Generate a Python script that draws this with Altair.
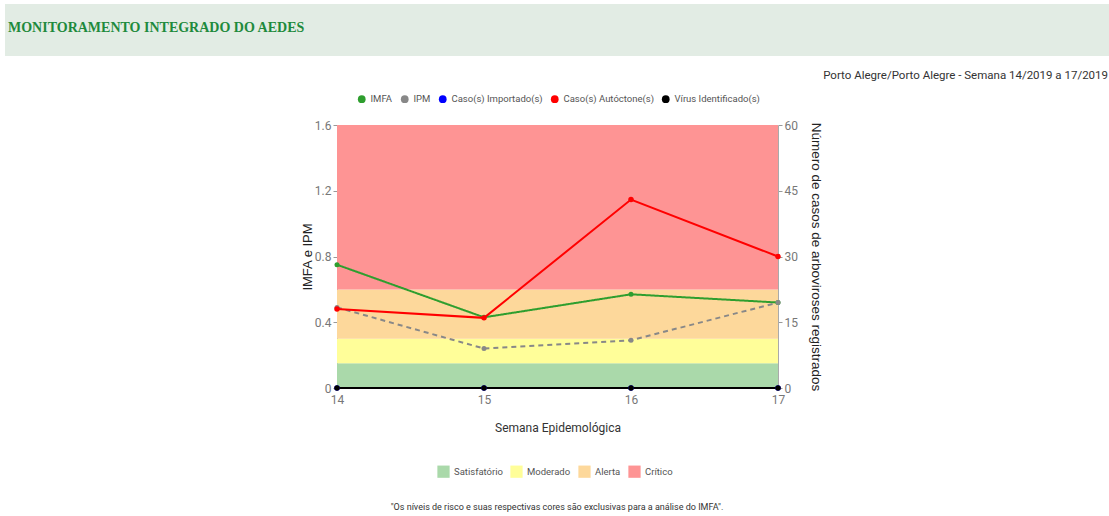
import altair as alt
import pandas as pd

# Weekly indices (left axis) and case counts (right axis)
semanas = [14, 15, 16, 17]
imfa = [0.75, 0.43, 0.57, 0.52]
ipm = [0.49, 0.24, 0.29, 0.52]
importados = [0, 0, 0, 0]
autoctones = [18, 16, 43, 30]
virus = [0, 0, 0, 0]

# Risk levels for IMFA
niveis = ["Satisfatório", "Moderado", "Alerta", "Crítico"]
nivel_min = [0.0, 0.15, 0.30, 0.60]
nivel_max = [0.15, 0.30, 0.60, 1.6]
nivel_cores = ["#aad9aa", "#fffe99", "#fdd89b", "#fe9494"]

series = ["IMFA", "IPM", "Caso(s) Importado(s)", "Caso(s) Autóctone(s)", "Vírus Identificado(s)"]
series_cores = ["#2e9e2e", "#888888", "#0000ff", "#ff0000", "#000000"]

COND = "Roboto"
ARIAL = "Liberation Sans"

W, H = 441, 263
PAD = {"left": 337, "top": 125, "right": 331, "bottom": 128}

x_scale = alt.Scale(domain=[14, 17], nice=False, zero=False)
x_axis = alt.Axis(values=semanas, format="d", title="Semana Epidemológica",
                  labelFont=COND, labelFontSize=12, labelColor="#777", labelFlush=False,
                  titleFont=COND, titleFontSize=12, titleColor="#333", titleFontWeight="normal",
                  ticks=False, domainColor="#000", labelPadding=6, titlePadding=17, grid=False)

color_scale = alt.Scale(domain=series, range=series_cores)
color_legend = alt.Legend(title=None, orient="none", direction="horizontal",
                          legendX=20, legendY=-31, symbolType="circle", symbolSize=60,
                          symbolStrokeWidth=0, labelFont=COND, labelFontSize=9.5,
                          labelColor="#555", columnPadding=7, symbolOffset=0)

df_bandas = pd.DataFrame({"nivel": niveis, "y0": nivel_min, "y1": nivel_max,
                          "x0": [semanas[0]] * 4, "x1": [semanas[-1]] * 4})
bandas = alt.Chart(df_bandas).mark_rect(opacity=1).encode(
    x=alt.X("x0:Q", scale=x_scale, axis=x_axis),
    x2="x1",
    y=alt.Y("y0:Q", scale=alt.Scale(domain=[0, 1.6], nice=False),
            axis=alt.Axis(values=[0, 0.4, 0.8, 1.2, 1.6], format="~g", title="IMFA e IPM",
                          labelFont=COND, labelFontSize=12, labelColor="#777",
                          tickColor="#999", tickSize=4, domainColor="#aaa", labelPadding=2,
                          titleFont=ARIAL, titleFontSize=13, titleColor="#222",
                          titleFontWeight="normal", titlePadding=0, grid=False)),
    y2="y1",
    fill=alt.Fill("nivel:N", scale=alt.Scale(domain=niveis, range=nivel_cores),
                  legend=alt.Legend(title=None, orient="none", direction="horizontal",
                                    legendX=100, legendY=340, symbolType="square",
                                    symbolSize=150, symbolStrokeWidth=0, labelFont=COND,
                                    labelFontSize=9.5, labelColor="#555", columnPadding=7)),
)

df_idx = pd.DataFrame({
    "semana": semanas * 2,
    "valor": imfa + ipm,
    "serie": ["IMFA"] * 4 + ["IPM"] * 4,
})
indices = alt.Chart(df_idx).mark_line(strokeWidth=2, point=alt.OverlayMarkDef(size=25, filled=True)).encode(
    x=alt.X("semana:Q", scale=x_scale),
    y=alt.Y("valor:Q"),
    color=alt.Color("serie:N", scale=color_scale, legend=color_legend),
    strokeDash=alt.StrokeDash("serie:N", scale=alt.Scale(domain=["IMFA", "IPM"], range=[[1, 0], [5, 4]]), legend=None),
    order=alt.Order("semana:Q"),
)

esquerda = alt.layer(bandas, indices)

df_casos = pd.DataFrame({
    "semana": semanas * 3,
    "casos": importados + autoctones + virus,
    "serie": ["Caso(s) Importado(s)"] * 4 + ["Caso(s) Autóctone(s)"] * 4 + ["Vírus Identificado(s)"] * 4,
})
casos = alt.Chart(df_casos).mark_line(strokeWidth=2, point=alt.OverlayMarkDef(size=30, filled=True)).encode(
    x=alt.X("semana:Q", scale=x_scale),
    y=alt.Y("casos:Q", scale=alt.Scale(domain=[0, 60], nice=False),
            axis=alt.Axis(orient="right", values=[0, 15, 30, 45, 60],
                          title="Número de casos de arboviroses registrados",
                          labelFont=COND, labelFontSize=12, labelColor="#777",
                          tickColor="#999", tickSize=4, domainColor="#aaa", labelPadding=2,
                          titleFont=ARIAL, titleFontSize=13.5, titleColor="#222",
                          titleFontWeight="normal", titleAngle=90, titlePadding=11, grid=False)),
    color=alt.Color("serie:N", scale=color_scale, legend=color_legend),
    detail="serie:N",
    order=alt.Order("semana:Q"),
)

um = pd.DataFrame({"k": [0]})
cabecalho = alt.Chart(um).mark_rect(color="#e2ece4").encode(
    x=alt.value(5 - PAD["left"]), x2=alt.value(1109 - PAD["left"]),
    y=alt.value(4 - PAD["top"]), y2=alt.value(56 - PAD["top"]),
)
titulo = alt.Chart(um).mark_text(align="left", baseline="middle", font="Liberation Serif",
                                 fontSize=14, fontWeight="bold", color="#1e8a3c").encode(
    x=alt.value(8 - PAD["left"]), y=alt.value(28 - PAD["top"]),
    text=alt.value("MONITORAMENTO INTEGRADO DO AEDES"),
)
local = alt.Chart(um).mark_text(align="right", baseline="middle", font=COND,
                                fontSize=11.5, color="#333").encode(
    x=alt.value(1108 - PAD["left"]), y=alt.value(76 - PAD["top"]),
    text=alt.value("Porto Alegre/Porto Alegre - Semana 14/2019 a 17/2019"),
)
nota = alt.Chart(um).mark_text(align="center", baseline="middle", font=COND,
                               fontSize=9, color="#333").encode(
    x=alt.value(557 - PAD["left"]), y=alt.value(507 - PAD["top"]),
    text=alt.value('"Os níveis de risco e suas respectivas cores são exclusivas para a análise do IMFA".'),
)

chart = alt.layer(esquerda, casos, cabecalho, titulo, local, nota).resolve_scale(
    y="independent"
).properties(
    width=W, height=H, padding=PAD, autosize=alt.AutoSizeParams(type="none"),
    background="white",
).configure_view(stroke=None)

chart.save("out.html", embed_options={"renderer": "svg", "actions": False})
